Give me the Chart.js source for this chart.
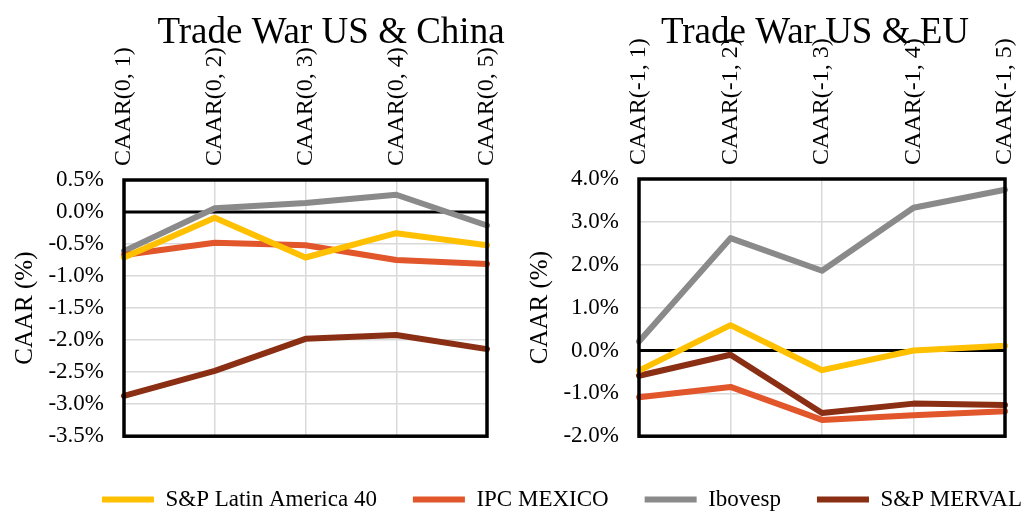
<!DOCTYPE html>
<html>
<head>
<meta charset="utf-8">
<script src="https://cdn.jsdelivr.net/npm/chart.js@4"></script>
<style>
  html, body { margin: 0; padding: 0; background: #fff; }
  #wrap { position: relative; width: 1024px; height: 512px; overflow: hidden; }
  canvas { position: absolute; }
  #chinaChart { left: 0; top: 0; }
  #euChart { left: 512px; top: 0; }
  #legendChart { left: 0; top: 361px; }
</style>
</head>
<body>
<div id="wrap">
  <canvas id="chinaChart" width="512" height="470"></canvas>
  <canvas id="euChart" width="512" height="470"></canvas>
  <canvas id="legendChart" width="1058" height="160"></canvas>
</div>
<script>
// Event windows
const chinaLabels = ['CAAR(0, 1)', 'CAAR(0, 2)', 'CAAR(0, 3)', 'CAAR(0, 4)', 'CAAR(0, 5)'];
const euLabels = ['CAAR(-1, 1)', 'CAAR(-1, 2)', 'CAAR(-1, 3)', 'CAAR(-1, 4)', 'CAAR(-1, 5)'];

const seriesNames = ['S&P Latin America 40', 'IPC MEXICO', 'Ibovesp', 'S&P MERVAL'];
const seriesColors = ['#FFC000', '#E1562A', '#8A8A8A', '#8A2E14'];

// CAAR (%) - trade war US & China
const chinaLatam40 = [-0.71, -0.09, -0.71, -0.33, -0.52];
const chinaIpc = [-0.67, -0.48, -0.52, -0.75, -0.81];
const chinaIbovesp = [-0.61, 0.06, 0.14, 0.27, -0.21];
const chinaMerval = [-2.87, -2.48, -1.98, -1.92, -2.14];

// CAAR (%) - trade war US & EU
const euLatam40 = [-0.47, 0.59, -0.46, 0.0, 0.11];
const euIpc = [-1.09, -0.85, -1.62, -1.51, -1.42];
const euIbovesp = [0.21, 2.62, 1.86, 3.33, 3.75];
const euMerval = [-0.59, -0.10, -1.46, -1.24, -1.27];

const chinaTicks = { min: -3.5, max: 0.5, step: 0.5 };
const euTicks = { min: -2, max: 4, step: 1 };

const FONT = "'Liberation Serif', 'Times New Roman', serif";
Chart.defaults.font.family = FONT;
Chart.defaults.color = '#000';

const LABEL_SIZE = 24;

function makeDatasets(values) {
  return values.map((data, i) => ({
    label: seriesNames[i],
    data: data,
    borderColor: seriesColors[i],
    backgroundColor: seriesColors[i],
    borderWidth: 6,
    borderCapStyle: 'round',
    borderJoinStyle: 'round',
    pointRadius: 0,
    tension: 0,
  }));
}

// black frame around the plot area plus a heavy zero line
const framePlugin = {
  id: 'frame',
  beforeDatasetsDraw(chart) {
    const { ctx, chartArea: a, scales: { y } } = chart;
    const y0 = y.getPixelForValue(0);
    ctx.save();
    ctx.strokeStyle = '#000';
    ctx.lineWidth = 3;
    ctx.beginPath();
    ctx.moveTo(a.left, y0);
    ctx.lineTo(a.right, y0);
    ctx.stroke();
    ctx.restore();
  },
  afterDatasetsDraw(chart) {
    const { ctx, chartArea: a } = chart;
    ctx.save();
    ctx.strokeStyle = '#000';
    ctx.lineWidth = 3.5;
    ctx.strokeRect(a.left, a.top, a.right - a.left, a.bottom - a.top);
    ctx.restore();
  },
};

// title drawn at a fixed spot so the tick labels may run under it
const headPlugin = {
  id: 'head',
  afterDraw(chart, args, opts) {
    const ctx = chart.ctx;
    ctx.save();
    ctx.font = '37px ' + FONT;
    ctx.fillStyle = '#000';
    ctx.textAlign = 'center';
    ctx.textBaseline = 'alphabetic';
    ctx.fillText(opts.text, opts.x, opts.y);
    ctx.restore();
  },
};

function makeChart(id, labels, values, range, title, box) {
  return new Chart(document.getElementById(id), {
    type: 'line',
    data: { labels: labels, datasets: makeDatasets(values) },
    plugins: [framePlugin, headPlugin],
    options: {
      responsive: false,
      animation: false,
      layout: { padding: { left: 0, top: 0, right: box.right, bottom: box.bottom } },
      plugins: {
        legend: { display: false },
        tooltip: { enabled: false },
        head: title,
      },
      scales: {
        x: {
          position: 'top',
          offset: false,
          afterFit: (s) => { s.height = box.top; },
          grid: { color: '#d9d9d9', lineWidth: 1.5, drawTicks: false },
          border: { display: false },
          ticks: {
            autoSkip: false,
            minRotation: 90,
            maxRotation: 90,
            padding: 14,
            labelOffset: LABEL_SIZE * 1.2,
            font: { size: LABEL_SIZE },
          },
        },
        y: {
          min: range.min,
          max: range.max,
          afterFit: (s) => { s.width = box.left; },
          grid: { color: '#d9d9d9', lineWidth: 1.5, drawTicks: false },
          border: { display: false },
          ticks: {
            stepSize: range.step,
            padding: 20,
            font: { size: 23 },
            callback: (v) => v.toFixed(1) + '%',
          },
          title: {
            display: true,
            text: 'CAAR (%)',
            font: { size: 25 },
            padding: { top: box.titlePad, bottom: 0 },
          },
        },
      },
    },
  });
}

makeChart('chinaChart', chinaLabels,
  [chinaLatam40, chinaIpc, chinaIbovesp, chinaMerval], chinaTicks,
  { text: 'Trade War US & China', x: 331, y: 43 },
  { left: 124, top: 180, right: 25, bottom: 25, titlePad: 10 },
);

makeChart('euChart', euLabels,
  [euLatam40, euIpc, euIbovesp, euMerval], euTicks,
  { text: 'Trade War US & EU', x: 303, y: 43 },
  { left: 127, top: 179, right: 19, bottom: 21, titlePad: 13 },
);

// shared legend strip under both panels
new Chart(document.getElementById('legendChart'), {
  type: 'line',
  data: { labels: [], datasets: makeDatasets(seriesNames.map(() => [])) },
  options: {
    responsive: false,
    animation: false,
    layout: { padding: 0 },
    scales: { x: { display: false }, y: { display: false } },
    plugins: {
      tooltip: { enabled: false },
      legend: {
        position: 'bottom',
        align: 'end',
        labels: {
          usePointStyle: true,
          pointStyle: 'line',
          pointStyleWidth: 52,
          padding: 36,
          color: '#000',
          font: { size: 23 },
        },
      },
    },
  },
});
</script>
</body>
</html>
